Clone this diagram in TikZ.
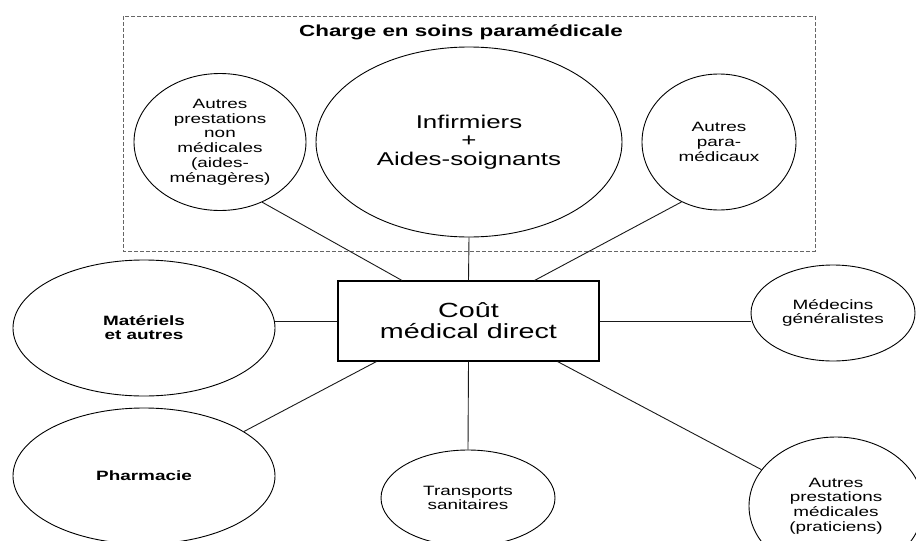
\documentclass[tikz,border=0pt]{standalone}
\usepackage{fontspec}
\usepackage{tikz}
\usetikzlibrary{shapes.geometric, positioning}
\newfontfamily\lblfont{Liberation Sans}[FakeStretch=1.4]

\begin{document}
\begin{tikzpicture}[x=1pt, y=-1pt,
    bubble/.style={ellipse, draw, line width=0.9pt, inner sep=0pt, align=center,
      font=\lblfont\fontsize{13.5}{14.8}\selectfont},
    link/.style={line width=0.9pt, black!90}]
  \useasboundingbox (0,0) rectangle (916,541);

  % cadre des soins paramedicaux
  \draw[dash pattern=on 4pt off 2pt, black!60, line width=0.7pt] (123,16) rectangle (815,251);
  \node (titre) at (461,32) {\lblfont\bfseries\fontsize{16}{18}\selectfont Charge en soins paramédicale};

  \node[bubble, minimum width=172pt, minimum height=137pt] (apn) at (220,142)
    {Autres\\prestations\\non\\médicales\\(aides-\\ménagères)};
  \node[bubble, minimum width=306pt, minimum height=190pt,
    font=\lblfont\fontsize{18.5}{18.5}\selectfont] (soins) at (469,142)
    {Infirmiers\\+\\Aides-soignants};
  \node[bubble, minimum width=154pt, minimum height=136pt] (apara) at (719,142)
    {Autres\\para-\\médicaux};

  % cout central
  \node[draw, line width=1.1pt, minimum width=261pt, minimum height=80pt, align=center,
    font=\lblfont\fontsize{20.5}{21}\selectfont] (cout) at (468.5,321)
    {Coût\\médical direct};

  \node[bubble, minimum width=262pt, minimum height=136pt, font=\lblfont\bfseries\fontsize{13.5}{14.2}\selectfont]
    (mat) at (144,328) {Matériels\\et autres};
  \node[bubble, minimum width=164pt, minimum height=96pt] (medg) at (833,313)
    {Médecins\\généralistes};
  \node[bubble, minimum width=262pt, minimum height=136pt, font=\lblfont\bfseries\fontsize{13.5}{14.8}\selectfont]
    (phar) at (144,476) {Pharmacie};
  \node[bubble, minimum width=174pt, minimum height=96pt] (trans) at (468,498)
    {Transports\\sanitaires};
  \node[bubble, minimum width=174pt, minimum height=138pt] (aprat) at (836,506)
    {Autres\\prestations\\médicales\\(praticiens)};

  % liaisons
  \draw[link] ([xshift=64.5pt]cout.north west) -- (apn.-55);
  \draw[link] (cout.north) -- (soins.south);
  \draw[link] ([xshift=-65pt]cout.north east) -- (apara.-122);
  \draw[link] (cout.west) -- (cout.west -| mat.east);
  \draw[link] (cout.east) -- (cout.east -| medg.west);
  \draw[link] ([xshift=39pt]cout.south west) -- (phar.24);
  \draw[link] (cout.south) -- (trans.north);
  \draw[link] ([xshift=-42pt]cout.south east) -- (aprat.154);
\end{tikzpicture}
\end{document}
